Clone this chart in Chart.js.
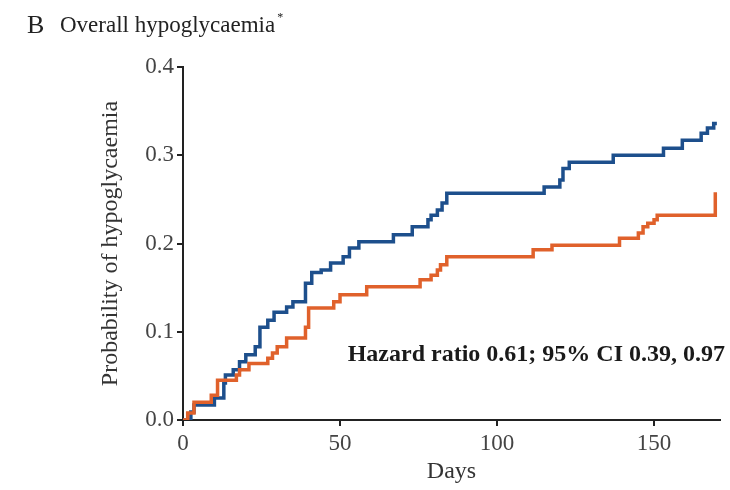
<!DOCTYPE html>
<html>
<head>
<meta charset="utf-8">
<script src="https://cdn.jsdelivr.net/npm/chart.js@4.4.1/dist/chart.umd.min.js"></script>
<style>
  html, body { margin: 0; padding: 0; background: #fff; }
  #wrap { position: relative; width: 730px; height: 490px; }
</style>
</head>
<body>
<div id="wrap"><canvas id="kmChart" width="730" height="490"></canvas></div>
<script>
// Kaplan-Meier style curves (day of event, cumulative probability)
const blueDays = [0, 2.5, 3.5, 10, 13, 13.5, 16, 18, 20, 23, 24.5, 27, 29, 33, 35, 39, 41, 44, 47, 51, 53, 56,
    67, 73, 78, 79, 81, 82.5, 84, 115, 120, 121, 123, 137, 153, 159, 165, 167, 169, 170];
const blueProb = [0, 0.009, 0.017, 0.025, 0.042, 0.051, 0.057, 0.066, 0.074, 0.083, 0.105, 0.113, 0.122, 0.128,
    0.134, 0.155, 0.167, 0.170, 0.178, 0.185, 0.195, 0.202, 0.210, 0.219, 0.227, 0.232, 0.238, 0.246, 0.257,
    0.264, 0.272, 0.285, 0.292, 0.300, 0.308, 0.317, 0.325, 0.331, 0.336, 0.336];

const orangeDays = [0, 1.5, 3.5, 9, 11, 17, 18, 21, 27, 28.5, 30, 33, 39, 40, 48, 50, 58.5, 75.5, 79, 81, 82, 84,
    111.5, 117.5, 139, 145, 146.5, 148, 150, 151, 169, 169.5];
const orangeProb = [0, 0.008, 0.020, 0.028, 0.045, 0.051, 0.057, 0.064, 0.070, 0.076, 0.083, 0.093, 0.105, 0.127,
    0.134, 0.142, 0.151, 0.159, 0.164, 0.170, 0.176, 0.185, 0.193, 0.198, 0.206, 0.212, 0.219, 0.223, 0.227,
    0.232, 0.232, 0.258];

const xTicks = [0, 50, 100, 150];
const yTicks = [0.0, 0.1, 0.2, 0.3, 0.4];

const titleLetter = "B";
const titleText = "Overall hypoglycaemia";
const hazardText = "Hazard ratio 0.61; 95% CI 0.39, 0.97";

const SERIF = "'Liberation Serif', 'DejaVu Serif', serif";

function toPoints(days, probs) {
    return days.map((d, i) => ({ x: d, y: probs[i] }));
}

// title and hazard ratio note, drawn on the canvas
const textPlugin = {
    id: 'textPlugin',
    afterDraw(chart) {
        const ctx = chart.ctx;
        ctx.save();
        ctx.fillStyle = '#222';
        ctx.textBaseline = 'alphabetic';
        ctx.font = `26px ${SERIF}`;
        ctx.fillText(titleLetter, 27, 33);
        ctx.font = `23px ${SERIF}`;
        ctx.fillText(titleText, 60, 32);
        const w = ctx.measureText(titleText).width;
        ctx.font = `12px ${SERIF}`;
        ctx.fillText("*", 60 + w + 2, 21);

        ctx.font = `bold 24px ${SERIF}`;
        ctx.fillStyle = '#1a1a1a';
        ctx.textAlign = 'right';
        ctx.fillText(hazardText, 725, 361);
        ctx.restore();
    }
};

new Chart(document.getElementById('kmChart'), {
    type: 'line',
    data: {
        datasets: [
            {
                data: toPoints(orangeDays, orangeProb),
                borderColor: '#e0612b',
                borderWidth: 3.5,
                stepped: true,
                pointRadius: 0,
                fill: false
            },
            {
                data: toPoints(blueDays, blueProb),
                borderColor: '#1d4f8c',
                borderWidth: 3.5,
                stepped: true,
                pointRadius: 0,
                fill: false
            }
        ]
    },
    options: {
        responsive: false,
        animation: false,
        layout: { padding: { left: 92, top: 67, right: 10, bottom: 2 } },
        plugins: {
            legend: { display: false },
            tooltip: { enabled: false }
        },
        scales: {
            x: {
                type: 'linear',
                min: 0,
                max: 171,
                afterBuildTicks: s => { s.ticks = xTicks.map(v => ({ value: v })); },
                afterFit: s => { s.height = 68; },
                border: { color: '#222', width: 2 },
                grid: { drawOnChartArea: false, color: '#222', lineWidth: 2, tickLength: 6 },
                ticks: { color: '#444', padding: 4, font: { family: SERIF, size: 23 } },
                title: { display: true, text: 'Days', color: '#333', padding: { top: 0, bottom: 2 }, font: { family: SERIF, size: 24 } }
            },
            y: {
                min: 0,
                max: 0.4,
                afterBuildTicks: s => { s.ticks = yTicks.map(v => ({ value: v })); },
                afterFit: s => { s.width = 91; },
                border: { color: '#222', width: 2 },
                grid: { drawOnChartArea: false, color: '#222', lineWidth: 2, tickLength: 6 },
                ticks: { color: '#444', padding: 3, font: { family: SERIF, size: 23 }, callback: v => v.toFixed(1) },
                title: { display: true, text: 'Probability of hypoglycaemia', color: '#333', font: { family: SERIF, size: 24 } }
            }
        }
    },
    plugins: [textPlugin]
});
</script>
</body>
</html>
